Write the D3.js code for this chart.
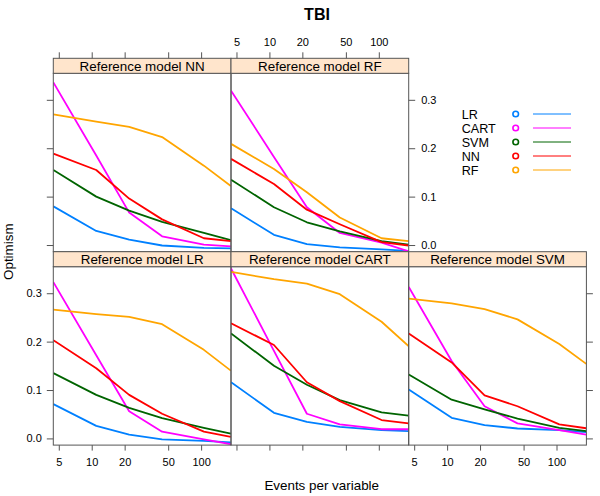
<!DOCTYPE html>
<html>
<head>
<meta charset="utf-8">
<script src="https://cdn.jsdelivr.net/npm/d3@7/dist/d3.min.js"></script>
<style>
  body { margin: 0; background: #fff; }
  svg { font-family: "Liberation Sans", Arial, sans-serif; }
</style>
</head>
<body>
<svg id="chart" width="600" height="496"></svg>
<script>
// ---- data ----
const methods = ["LR", "CART", "SVM", "NN", "RF"];
const colors = ["#0080ff", "#ff00ff", "#006400", "#ff0000", "#ffa500"];
const epv = [4.46, 11, 22, 44, 106, 187];
const xTicks = [5, 10, 20, 50, 100];
const yTicks = [0.0, 0.1, 0.2, 0.3];

const panelNames = ["Reference model NN", "Reference model RF", "Reference model LR", "Reference model CART", "Reference model SVM"];

// values per panel, rows in order of methods
const refNN = [
  [0.080, 0.029, 0.011, -0.001, -0.006, -0.007],
  [0.336, 0.185, 0.067, 0.018, 0.001, -0.003],
  [0.155, 0.100, 0.071, 0.048, 0.025, 0.010],
  [0.189, 0.155, 0.096, 0.053, 0.014, 0.008],
  [0.270, 0.255, 0.244, 0.223, 0.164, 0.122]
];
const refRF = [
  [0.076, 0.021, 0.002, -0.005, -0.009, -0.012],
  [0.319, 0.182, 0.078, 0.025, 0.005, -0.013],
  [0.135, 0.078, 0.047, 0.028, 0.008, 0.001],
  [0.178, 0.126, 0.073, 0.043, 0.006, -0.001],
  [0.209, 0.157, 0.109, 0.057, 0.014, 0.008]
];
const refLR = [
  [0.071, 0.026, 0.008, -0.002, -0.005, -0.008],
  [0.323, 0.172, 0.056, 0.014, -0.002, -0.012],
  [0.135, 0.090, 0.063, 0.042, 0.022, 0.010],
  [0.203, 0.145, 0.090, 0.051, 0.014, 0.003],
  [0.266, 0.257, 0.251, 0.236, 0.183, 0.140]
];
const refCART = [
  [0.116, 0.053, 0.034, 0.024, 0.017, 0.015],
  [0.351, 0.181, 0.051, 0.029, 0.019, 0.019],
  [0.217, 0.150, 0.111, 0.079, 0.054, 0.047],
  [0.238, 0.193, 0.116, 0.077, 0.038, 0.031],
  [0.344, 0.329, 0.320, 0.298, 0.241, 0.191]
];
const refSVM = [
  [0.101, 0.0425, 0.0275, 0.0205, 0.017, 0.013],
  [0.313, 0.160, 0.0665, 0.031, 0.017, 0.008],
  [0.132, 0.080, 0.060, 0.041, 0.022, 0.015],
  [0.217, 0.157, 0.089, 0.0665, 0.029, 0.021],
  [0.289, 0.279, 0.267, 0.246, 0.195, 0.154]
];
const panelData = [refNN, refRF, refLR, refCART, refSVM];

// ---- layout ----
const left0 = 53.3, pw = 177.7, stripH = 15, ph = 178.4, top0 = 58.3;
const grid = [[0, 0], [1, 0], [0, 1], [1, 1], [2, 1]]; // [col,row]
const axisCol = "#555";

const svg = d3.select("#chart");

const x = d3.scaleLog().domain([4.455, 187.6]).range([0, pw]);
const y = d3.scaleLinear().domain([-0.0138, 0.3548]).range([ph, 0]);

// title
svg.append("text").attr("x", 317).attr("y", 20).attr("text-anchor", "middle")
  .attr("font-size", 16).attr("font-weight", "bold").text("TBI");

// axis labels
svg.append("text").attr("x", 321.7).attr("y", 490).attr("text-anchor", "middle")
  .attr("font-size", 13.4).text("Events per variable");
svg.append("text").attr("transform", "translate(13,251.7) rotate(-90)")
  .attr("text-anchor", "middle").attr("font-size", 13.4).text("Optimism");

const defs = svg.append("defs");

function styleAxis(g) {
  g.selectAll(".domain").remove();
  g.selectAll(".tick line").attr("stroke", axisCol).attr("stroke-width", 1);
  g.selectAll(".tick text").attr("font-size", 11).attr("fill", "#000")
    .attr("font-family", "Liberation Sans, Arial, sans-serif");
}

const line = d3.line().x((d, i) => x(epv[i])).y(d => y(d));

panelData.forEach((pd, p) => {
  const [c, r] = grid[p];
  const px = left0 + c * pw;
  const stripTop = top0 + r * (stripH + ph);
  const py = stripTop + stripH;

  const g = svg.append("g").attr("transform", `translate(${px},${py})`);

  defs.append("clipPath").attr("id", "clip" + p)
    .append("rect").attr("x", 0).attr("y", 0).attr("width", pw).attr("height", ph);

  const lines = g.append("g").attr("clip-path", `url(#clip${p})`);
  pd.forEach((vals, m) => {
    lines.append("path").datum(vals).attr("d", line)
      .attr("fill", "none").attr("stroke", colors[m]).attr("stroke-width", 1.8)
      .attr("stroke-linejoin", "round");
  });

  g.append("rect").attr("x", 0).attr("y", 0).attr("width", pw).attr("height", ph)
    .attr("fill", "none").attr("stroke", axisCol).attr("stroke-width", 1);

  // strip
  const s = svg.append("g").attr("transform", `translate(${px},${stripTop})`);
  s.append("rect").attr("width", pw).attr("height", stripH)
    .attr("fill", "#ffe5cc").attr("stroke", axisCol).attr("stroke-width", 1);
  s.append("text").attr("x", pw / 2).attr("y", stripH - 2.3).attr("text-anchor", "middle")
    .attr("font-size", 13.4).text(panelNames[p]);

  const fmtX = d3.format("d");
  const fmtY = d3.format(".1f");
  if (r === 1) {
    const labeled = (c !== 1);
    const ax = d3.axisBottom(x).tickValues(xTicks).tickSize(5.5).tickPadding(8)
      .tickFormat(labeled ? fmtX : "");
    g.append("g").attr("transform", `translate(0,${ph})`).call(ax).call(styleAxis);
  }
  if (r === 0) {
    const labeled = (c === 1);
    const ax = d3.axisTop(x).tickValues(xTicks).tickSize(6).tickPadding(6)
      .tickFormat(labeled ? fmtX : "");
    s.append("g").call(ax).call(styleAxis);
  }
  if (c === 0) {
    const labeled = (r === 1);
    const ax = d3.axisLeft(y).tickValues(yTicks).tickSize(6.5).tickPadding(5)
      .tickFormat(labeled ? fmtY : "");
    g.append("g").call(ax).call(styleAxis);
  }
  if ((r === 0 && c === 1) || (r === 1 && c === 2)) {
    const labeled = (r === 0);
    const ax = d3.axisRight(y).tickValues(yTicks).tickSize(6.5).tickPadding(6)
      .tickFormat(labeled ? fmtY : "");
    g.append("g").attr("transform", `translate(${pw},0)`).call(ax).call(styleAxis);
  }
});

// legend
const leg = svg.append("g");
methods.forEach((m, i) => {
  const cy = 114 + i * 14;
  leg.append("text").attr("x", 461.7).attr("y", cy).attr("dy", "0.36em")
    .attr("font-size", 12.6).text(m);
  leg.append("circle").attr("cx", 515.7).attr("cy", cy).attr("r", 2.8)
    .attr("fill", "none").attr("stroke", colors[i]).attr("stroke-width", 1.6);
  leg.append("line").attr("x1", 533).attr("x2", 571).attr("y1", cy).attr("y2", cy)
    .attr("stroke", colors[i]).attr("stroke-width", 1);
});
</script>
</body>
</html>
